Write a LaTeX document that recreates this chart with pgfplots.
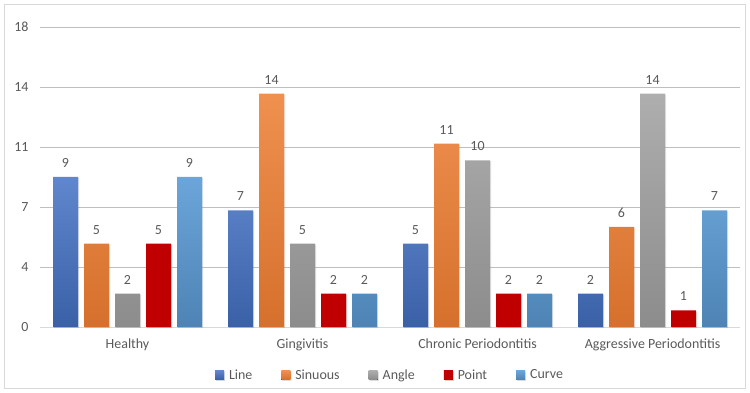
\documentclass[border=0pt]{standalone}
\usepackage{pgfplots}
\pgfplotsset{compat=1.18}
\usepackage{fontspec}
\setmainfont{Carlito}
\usetikzlibrary{shadows}

\definecolor{txt}{HTML}{595959}
\definecolor{grid}{HTML}{D9D9D9}
\definecolor{cLine}{HTML}{4472C4}
\definecolor{cSin}{HTML}{ED7D31}
\definecolor{cAng}{HTML}{A5A5A5}
\definecolor{cPt}{HTML}{C00000}
\definecolor{cCur}{HTML}{5B9BD5}

\begin{document}
\begin{tikzpicture}
\path[use as bounding box] (-40bp,-66bp) rectangle (710bp,327bp);
% chart frame
\draw[grid, line width=1bp] (-35bp,-61bp) rectangle (705bp,322bp);
\begin{axis}[
  at={(0bp,0bp)}, anchor=south west,
  scale only axis,
  width=700bp, height=300bp,
  xmin=-0.5, xmax=3.5,
  ymin=0, ymax=18,
  ybar=6bp, bar width=25bp,
  xtick={0,1,2,3},
  xticklabels={Healthy,Gingivitis,Chronic Periodontitis,Aggressive Periodontitis},
  ytick={0,3.6,7.2,10.8,14.4,18},
  yticklabels={0,4,7,11,14,18},
  xmajorgrids=false, ymajorgrids=true,
  grid style={grid, line width=0.8bp},
  axis x line*=bottom, axis y line*=left,
  x axis line style={grid, line width=0.8bp},
  y axis line style={draw=none},
  major tick length=0pt,
  tick label style={font=\fontsize{14}{16}\selectfont, text=txt},
  /pgf/number format/assume math mode=true,
  xticklabel style={yshift=-8bp},
  yticklabel style={xshift=-8bp},
  nodes near coords,
  nodes near coords style={font=\fontsize{14}{16}\selectfont, text=txt, yshift=6bp},
  legend columns=-1,
  legend style={at={(0.5,-48bp)}, anchor=center, draw=none, fill=none,
    font=\fontsize{14}{16}\selectfont, text=txt,
    /tikz/every odd column/.append style={column sep=3bp},
    /tikz/every even column/.append style={column sep=27bp}},
  legend image code/.code={\fill[#1] (0bp,-4.5bp) rectangle (9bp,4.5bp);},
  every axis plot/.append style={draw=none},
]
\addplot[top color=cLine!85!white, bottom color=cLine!85!black,
  drop shadow={opacity=0.15, shadow xshift=1bp, shadow yshift=-1bp}]
  coordinates {(0,9) (1,7) (2,5) (3,2)};
\addplot[top color=cSin!85!white, bottom color=cSin!90!black,
  drop shadow={opacity=0.15, shadow xshift=1bp, shadow yshift=-1bp}]
  coordinates {(0,5) (1,14) (2,11) (3,6)};
\addplot[top color=cAng!90!white, bottom color=cAng!85!black,
  drop shadow={opacity=0.15, shadow xshift=1bp, shadow yshift=-1bp}]
  coordinates {(0,2) (1,5) (2,10) (3,14)};
\addplot[top color=cPt, bottom color=cPt,
  drop shadow={opacity=0.15, shadow xshift=1bp, shadow yshift=-1bp}]
  coordinates {(0,5) (1,2) (2,2) (3,1)};
\addplot[top color=cCur!90!white, bottom color=cCur!85!black,
  drop shadow={opacity=0.15, shadow xshift=1bp, shadow yshift=-1bp}]
  coordinates {(0,9) (1,2) (2,2) (3,7)};
\legend{Line,Sinuous,Angle,Point,Curve}
\end{axis}
\end{tikzpicture}
\end{document}
